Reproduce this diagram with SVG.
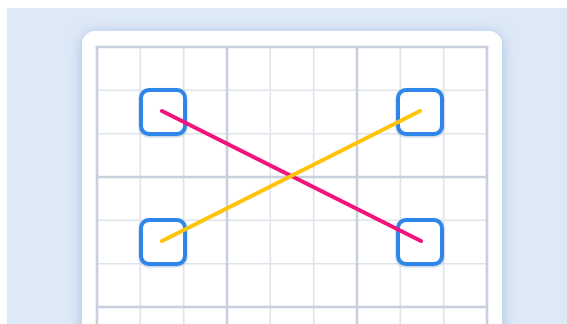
<svg xmlns="http://www.w3.org/2000/svg" width="567" height="324" viewBox="0 0 567 324">
  <defs>
    <filter id="cardShadow" x="-20%" y="-20%" width="140%" height="140%">
      <feDropShadow dx="0" dy="2" stdDeviation="7" flood-color="#8fa9d4" flood-opacity="0.7"/>
    </filter>
    <filter id="boxShadow" x="-30%" y="-30%" width="160%" height="160%">
      <feDropShadow dx="0" dy="1" stdDeviation="1.2" flood-color="#1a4f9a" flood-opacity="0.35"/>
    </filter>
    <style>
      .minor { stroke: #dfe3ec; stroke-width: 1.6; }
      .major { stroke: #c9d0dd; stroke-width: 2.6; }
      .node { fill: #ffffff; stroke: #2f86e8; stroke-width: 4; filter: url(#boxShadow); }
      .link { fill: none; stroke-width: 4; stroke-linecap: round; }
    </style>
  </defs>
  <rect x="0" y="0" width="567" height="324" fill="#ffffff"/>
  <rect x="7" y="8" width="560" height="316" fill="#dde9f6"/>
  <g id="card">
    <rect x="82" y="31" width="420" height="320" rx="13" fill="#ffffff" filter="url(#cardShadow)"/>
  </g>
  <g id="grid">
    <g class="minor">
      <line x1="140.3" y1="47" x2="140.3" y2="324"/>
      <line x1="183.7" y1="47" x2="183.7" y2="324"/>
      <line x1="270.3" y1="47" x2="270.3" y2="324"/>
      <line x1="313.7" y1="47" x2="313.7" y2="324"/>
      <line x1="400.3" y1="47" x2="400.3" y2="324"/>
      <line x1="443.7" y1="47" x2="443.7" y2="324"/>
      <line x1="97" y1="90.3" x2="487" y2="90.3"/>
      <line x1="97" y1="133.7" x2="487" y2="133.7"/>
      <line x1="97" y1="220.3" x2="487" y2="220.3"/>
      <line x1="97" y1="263.7" x2="487" y2="263.7"/>
    </g>
    <g class="major">
      <line x1="227" y1="47" x2="227" y2="324"/>
      <line x1="357" y1="47" x2="357" y2="324"/>
      <line x1="97" y1="177" x2="487" y2="177"/>
      <line x1="97" y1="307" x2="487" y2="307"/>
      <line x1="97" y1="47" x2="97" y2="324"/>
      <line x1="487" y1="47" x2="487" y2="324"/>
      <line x1="95.7" y1="47" x2="488.3" y2="47"/>
    </g>
  </g>
  <g id="node-top-left">
    <rect class="node" x="141" y="90" width="44" height="44" rx="8"/>
  </g>
  <g id="node-top-right">
    <rect class="node" x="398" y="90" width="44" height="44" rx="8"/>
  </g>
  <g id="node-bottom-left">
    <rect class="node" x="141" y="220" width="44" height="44" rx="8"/>
  </g>
  <g id="node-bottom-right">
    <rect class="node" x="398" y="220" width="44" height="44" rx="8"/>
  </g>
  <g id="connectors">
    <line class="link" x1="162" y1="111" x2="421" y2="241" stroke="#f2147a"/>
    <line class="link" x1="162" y1="241" x2="420" y2="111" stroke="#ffc409"/>
  </g>
</svg>
